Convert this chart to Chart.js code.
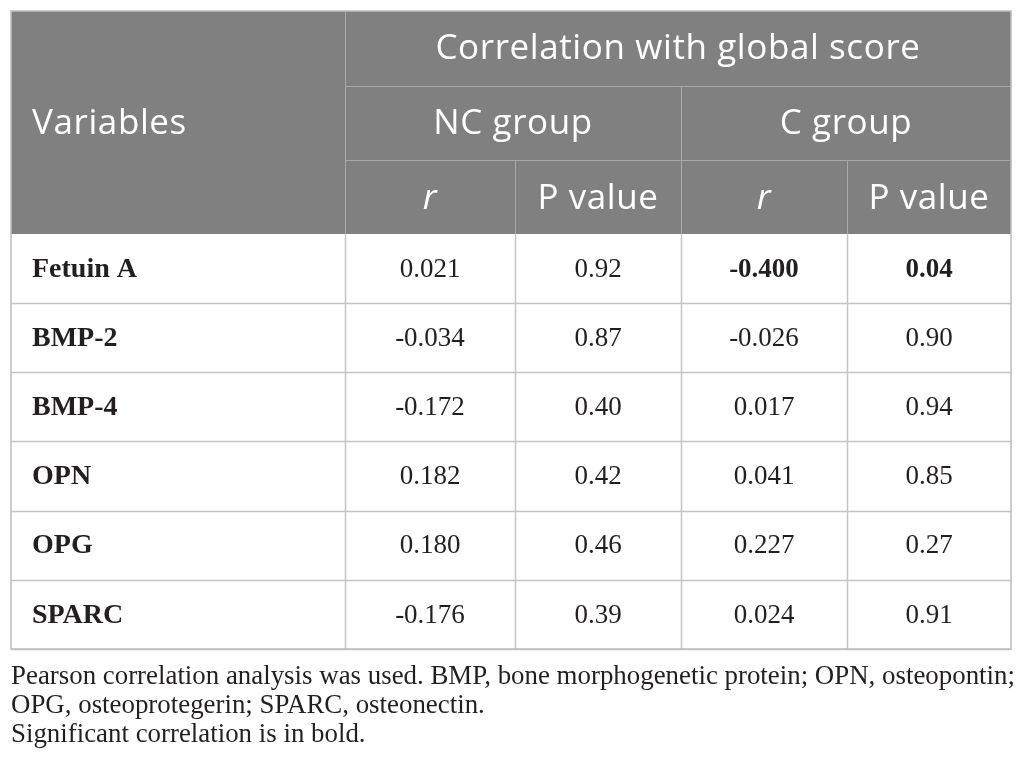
<!DOCTYPE html>
<html>
<head>
<meta charset="utf-8">
<script src="https://cdn.jsdelivr.net/npm/chart.js@4.4.1/dist/chart.umd.min.js"></script>
<style>
  html, body { margin: 0; padding: 0; background: #ffffff; }
  #wrap { width: 1026px; height: 773px; position: relative; }
</style>
</head>
<body>
<div id="wrap"><canvas id="c"></canvas></div>
<script>
// ---- Data ----
const variables = ['Fetuin A', 'BMP-2', 'BMP-4', 'OPN', 'OPG', 'SPARC'];
const ncR = [0.021, -0.034, -0.172, 0.182, 0.180, -0.176];
const ncP = [0.92, 0.87, 0.40, 0.42, 0.46, 0.39];
const cR  = [-0.400, -0.026, 0.017, 0.041, 0.227, 0.024];
const cP  = [0.04, 0.90, 0.94, 0.85, 0.27, 0.91];
const significant = [true, false, false, false, false, false]; // C group

const headerTop = 'Correlation with global score';
const headerVar = 'Variables';
const groups = ['NC group', 'C group'];
const subHeads = ['r', 'P value', 'r', 'P value'];
const footnotes = [
  'Pearson correlation analysis was used. BMP, bone morphogenetic protein; OPN, osteopontin;',
  'OPG, osteoprotegerin; SPARC, osteonectin.',
  'Significant correlation is in bold.'
];

// ---- Layout (in scale units) ----
const colW = [334, 170, 166, 166, 164];
const headRowH = [75, 74, 74];
const dataRowH = 69.17;
const colEdges = [0];
colW.forEach(w => colEdges.push(colEdges[colEdges.length - 1] + w));
const headEdges = [0];
headRowH.forEach(h => headEdges.push(headEdges[headEdges.length - 1] + h));
const headTotal = headEdges[3];
const rowEdge = i => headTotal + i * dataRowH;
const xMax = colEdges[colEdges.length - 1];
const yMax = rowEdge(variables.length);

const colMid = j => (colEdges[j] + colEdges[j + 1]) / 2;
const rowMid = i => headTotal + (i + 0.5) * dataRowH;

const valueCols = [
  { vals: ncR, dec: 3, bold: null },
  { vals: ncP, dec: 2, bold: null },
  { vals: cR, dec: 3, bold: significant },
  { vals: cP, dec: 2, bold: significant }
];

const datasets = [];
datasets.push({
  label: 'Variables',
  data: variables.map((v, i) => ({ x: 21, y: rowMid(i) })),
  kind: 'label'
});
valueCols.forEach((c, k) => {
  datasets.push({
    label: 'col' + k,
    data: c.vals.map((v, i) => ({ x: colMid(k + 1), y: rowMid(i) })),
    kind: 'value', col: c
  });
});

const SANS = '"Open Sans", "Noto Sans", sans-serif';
const SERIF = '"Liberation Serif", "DejaVu Serif", serif';

const tablePlugin = {
  id: 'tablePlugin',
  beforeDatasetsDraw(chart) {
    const ctx = chart.ctx;
    const xs = chart.scales.x, ys = chart.scales.y;
    const X = v => xs.getPixelForValue(v);
    const Y = v => ys.getPixelForValue(v);
    ctx.save();
    // header background
    ctx.fillStyle = '#808080';
    ctx.fillRect(X(0), Y(0), X(xMax) - X(0), Y(headTotal) - Y(0));
    // header lines
    ctx.strokeStyle = '#a9a9a9';
    ctx.lineWidth = 1;
    const line = (x1, y1, x2, y2) => {
      ctx.beginPath();
      ctx.moveTo(Math.round(x1) + 0.5, Math.round(y1) + 0.5);
      ctx.lineTo(Math.round(x2) + 0.5, Math.round(y2) + 0.5);
      ctx.stroke();
    };
    line(X(colEdges[1]), Y(0), X(colEdges[1]), Y(headTotal));
    line(X(colEdges[1]), Y(headEdges[1]), X(xMax), Y(headEdges[1]));
    line(X(colEdges[1]), Y(headEdges[2]), X(xMax), Y(headEdges[2]));
    line(X(colEdges[3]), Y(headEdges[1]), X(colEdges[3]), Y(headTotal));
    line(X(colEdges[2]), Y(headEdges[2]), X(colEdges[2]), Y(headTotal));
    line(X(colEdges[4]), Y(headEdges[2]), X(colEdges[4]), Y(headTotal));
    // body lines
    ctx.strokeStyle = '#c4c4c4';
    ctx.lineWidth = 1.5;
    for (let i = 1; i <= variables.length; i++) {
      line(X(0), Y(rowEdge(i)), X(xMax), Y(rowEdge(i)));
    }
    for (let j = 1; j < colEdges.length - 1; j++) {
      line(X(colEdges[j]), Y(headTotal), X(colEdges[j]), Y(yMax));
    }
    // outer border
    ctx.strokeStyle = '#bdbdbd';
    ctx.lineWidth = 1.5;
    ctx.strokeRect(X(0), Y(0), X(xMax) - X(0), Y(yMax) - Y(0));

    // header text
    ctx.fillStyle = '#ffffff';
    ctx.textBaseline = 'middle';
    ctx.letterSpacing = '0.6px';
    ctx.font = '35px ' + SANS;
    ctx.textAlign = 'left';
    ctx.fillText(headerVar, X(21), Y(headTotal / 2) + 2);
    ctx.textAlign = 'center';
    ctx.fillText(headerTop, X((colEdges[1] + xMax) / 2), Y(headEdges[1] / 2) + 1);
    ctx.fillText(groups[0], X((colEdges[1] + colEdges[3]) / 2), Y((headEdges[1] + headEdges[2]) / 2) + 1);
    ctx.fillText(groups[1], X((colEdges[3] + xMax) / 2), Y((headEdges[1] + headEdges[2]) / 2) + 1);
    subHeads.forEach((s, k) => {
      ctx.font = (s === 'r' ? 'italic ' : '') + '35px ' + SANS;
      ctx.fillText(s, X(colMid(k + 1)), Y((headEdges[2] + headTotal) / 2) + 2);
    });
    ctx.letterSpacing = '0px';

    // footnotes
    ctx.fillStyle = '#231f20';
    ctx.textAlign = 'left';
    ctx.textBaseline = 'alphabetic';
    let fs = 24;
    ctx.font = fs + 'px ' + SERIF;
    const w0 = ctx.measureText(footnotes[0]).width;
    fs = fs * 1004 / w0;
    ctx.font = fs.toFixed(2) + 'px ' + SERIF;
    const base = Y(yMax);
    footnotes.forEach((t, i) => {
      ctx.fillText(t, X(0), base + 35 + i * 29);
    });
    ctx.restore();
  },
  afterDatasetsDraw(chart) {
    const ctx = chart.ctx;
    ctx.save();
    ctx.fillStyle = '#231f20';
    ctx.textBaseline = 'middle';
    chart.data.datasets.forEach((ds, di) => {
      const meta = chart.getDatasetMeta(di);
      meta.data.forEach((pt, i) => {
        if (ds.kind === 'label') {
          ctx.textAlign = 'left';
          ctx.font = 'bold 28px ' + SERIF;
          ctx.fillText(variables[i], pt.x, pt.y + 1);
        } else {
          const c = ds.col;
          const b = c.bold && c.bold[i];
          ctx.textAlign = 'center';
          ctx.font = (b ? 'bold ' : '') + '27px ' + SERIF;
          ctx.fillText(c.vals[i].toFixed(c.dec), pt.x, pt.y + 1);
        }
      });
    });
    ctx.restore();
  }
};

new Chart(document.getElementById('c'), {
  type: 'scatter',
  data: { datasets },
  options: {
    responsive: true,
    maintainAspectRatio: false,
    animation: false,
    layout: { padding: { left: 11, right: 15, top: 11, bottom: 124 } },
    elements: { point: { radius: 0, hoverRadius: 0 } },
    plugins: { legend: { display: false }, tooltip: { enabled: false }, title: { display: false } },
    events: [],
    scales: {
      x: { type: 'linear', min: 0, max: xMax, display: false },
      y: { type: 'linear', min: 0, max: yMax, reverse: true, display: false }
    }
  },
  plugins: [tablePlugin]
});
</script>
</body>
</html>
